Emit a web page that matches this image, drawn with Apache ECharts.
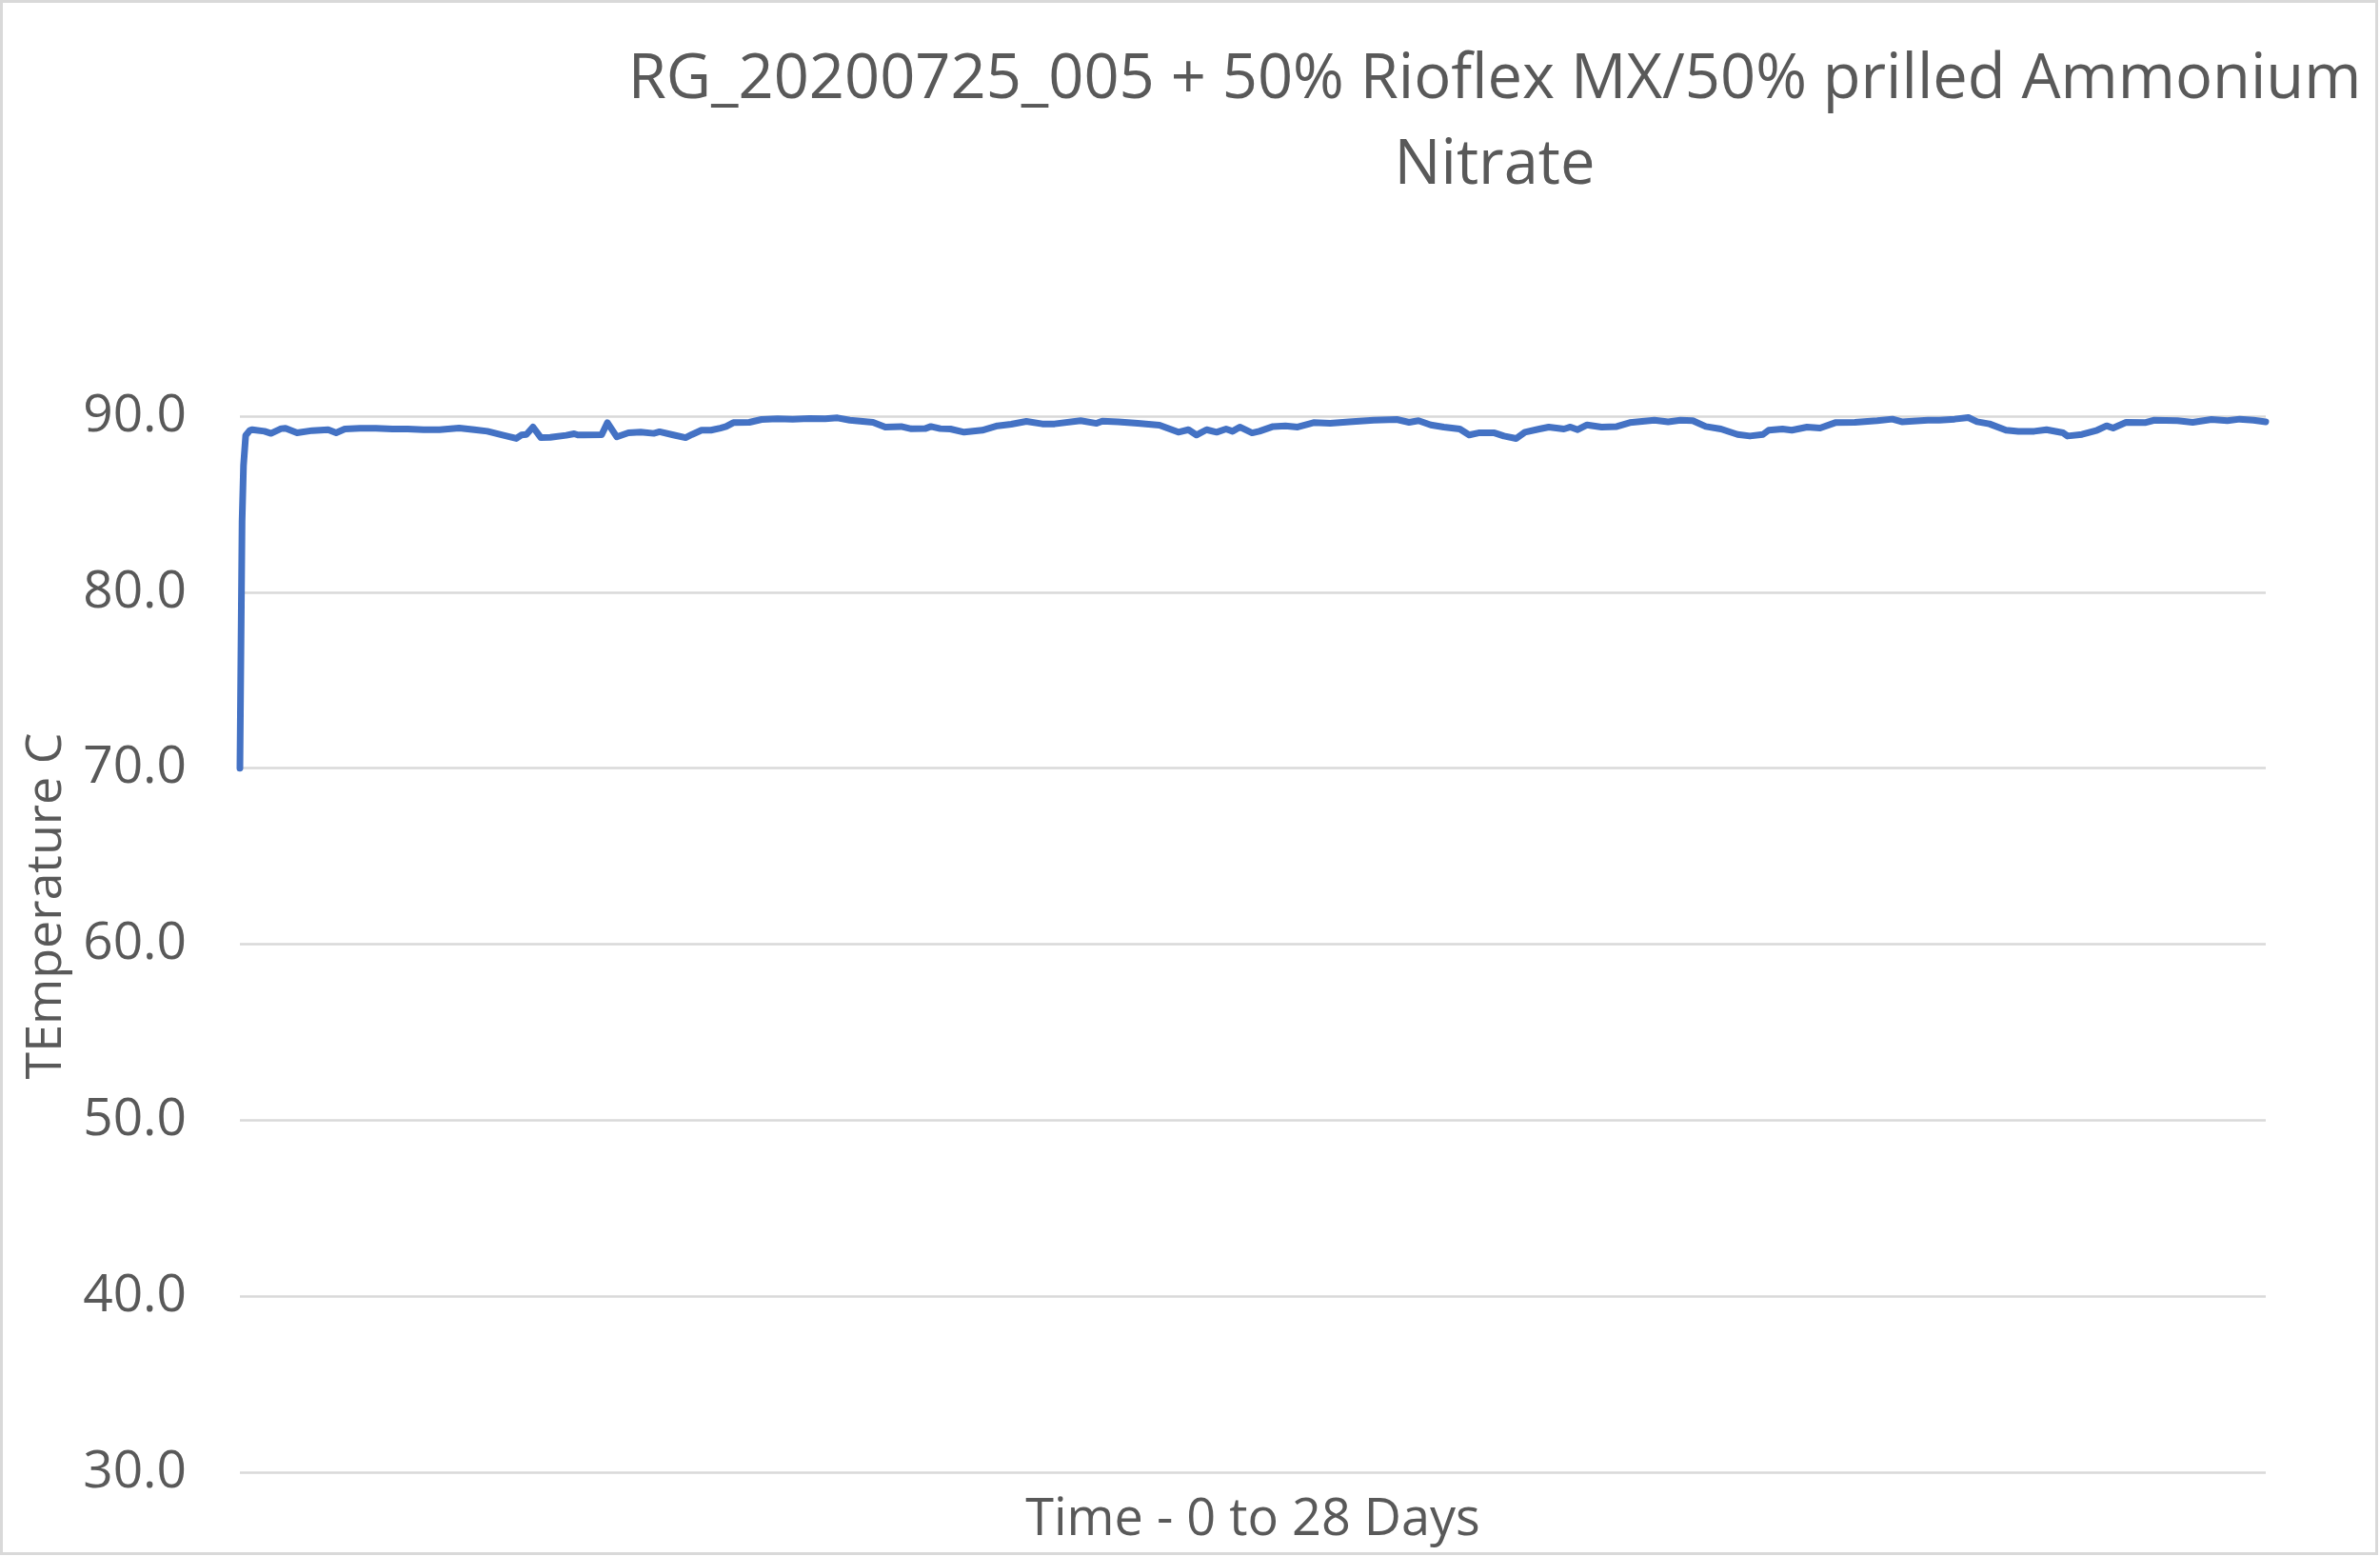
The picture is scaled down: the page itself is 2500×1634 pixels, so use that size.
<!DOCTYPE html>
<html>
<head>
<meta charset="utf-8">
<script src="https://cdn.jsdelivr.net/npm/echarts@6/dist/echarts.min.js"></script>
<style>
  html, body { margin: 0; padding: 0; background: #ffffff; }
  #chart { width: 2500px; height: 1634px; }
</style>
</head>
<body>
<div id="chart"></div>
<script>
// ---- Data ----
const chartTitle = "RG_20200725_005 + 50% Rioflex MX/50% prilled Ammonium\nNitrate";
const xAxisName = "Time - 0 to 28 Days";
const yAxisName = "TEmperature C";
const yTicks = [30, 40, 50, 60, 70, 80, 90];

// time in days (0 to 28)
const timeDays = [
  0, 0.03, 0.05, 0.08, 0.14, 0.17, 0.34, 0.43, 0.57, 0.63, 0.79, 1.00, 1.22, 1.33, 1.45,
  1.66, 1.88, 2.11, 2.32, 2.54, 2.76, 3.03, 3.24, 3.42, 3.63, 3.82, 3.89, 3.96, 4.05,
  4.16, 4.29, 4.51, 4.62, 4.67, 4.75, 5.00, 5.08, 5.21, 5.37, 5.54, 5.72, 5.80, 5.99,
  6.16, 6.25, 6.38, 6.51, 6.64, 6.72, 6.82, 7.04, 7.21, 7.43, 7.64, 7.87, 8.09, 8.26,
  8.43, 8.75, 8.92, 9.14, 9.28, 9.47, 9.55, 9.68, 9.82, 10.01, 10.26, 10.47, 10.66,
  10.87, 11.09, 11.26, 11.62, 11.84, 11.92, 12.14, 12.41, 12.71, 12.97, 13.11, 13.22,
  13.36, 13.50, 13.63, 13.72, 13.82, 13.99, 14.09, 14.28, 14.45, 14.62, 14.84, 15.07,
  15.33, 15.67, 15.99, 16.16, 16.29, 16.46, 16.64, 16.86, 16.99, 17.12, 17.34, 17.47,
  17.64, 17.76, 17.96, 18.09, 18.30, 18.39, 18.49, 18.62, 18.82, 19.03, 19.21, 19.55,
  19.74, 19.91, 20.08, 20.26, 20.47, 20.70, 20.87, 21.05, 21.13, 21.32, 21.45, 21.66,
  21.84, 22.05, 22.32, 22.63, 22.84, 22.97, 23.33, 23.49, 23.70, 23.89, 24.01, 24.18,
  24.41, 24.58, 24.80, 24.97, 25.20, 25.26, 25.46, 25.67, 25.80, 25.89, 26.07, 26.33,
  26.46, 26.78, 26.99, 27.25, 27.47, 27.64, 27.83, 28.00
];

// temperature in degrees C
const temperatureC = [
  70.0, 84.0, 87.2, 88.9, 89.2, 89.23, 89.14, 89.02, 89.29, 89.31, 89.05, 89.18, 89.23, 89.05, 89.27,
  89.31, 89.31, 89.27, 89.27, 89.23, 89.23, 89.32, 89.23, 89.14, 88.93, 88.73, 88.93, 88.96, 89.38,
  88.78, 88.80, 88.91, 89.00, 88.93, 88.93, 88.94, 89.63, 88.82, 89.05, 89.09, 89.02, 89.11, 88.93,
  88.78, 88.96, 89.20, 89.20, 89.32, 89.41, 89.63, 89.65, 89.81, 89.85, 89.83, 89.86, 89.85, 89.90,
  89.77, 89.65, 89.38, 89.41, 89.28, 89.29, 89.41, 89.29, 89.27, 89.09, 89.20, 89.45, 89.54,
  89.70, 89.56, 89.56, 89.74, 89.59, 89.72, 89.68, 89.59, 89.49, 89.09, 89.23, 88.93,
  89.23, 89.09, 89.27, 89.14, 89.38, 89.05, 89.14, 89.41, 89.45, 89.38, 89.63, 89.59,
  89.68, 89.77, 89.81, 89.65, 89.74, 89.50, 89.38, 89.27, 88.93, 89.05, 89.05, 88.87,
  88.73, 89.09, 89.27, 89.38, 89.27, 89.38, 89.23, 89.50, 89.38, 89.41, 89.63, 89.77,
  89.68, 89.77, 89.74, 89.41, 89.27, 88.96, 88.87, 88.96, 89.20, 89.27, 89.20, 89.38,
  89.32, 89.63, 89.65, 89.74, 89.83, 89.68, 89.77, 89.77, 89.83, 89.92, 89.68, 89.56,
  89.20, 89.14, 89.14, 89.23, 89.05, 88.87, 88.96, 89.20, 89.45, 89.32, 89.65, 89.63,
  89.77, 89.74, 89.65, 89.81, 89.74, 89.83, 89.77, 89.68
];

const seriesData = timeDays.map((t, i) => [t, temperatureC[i]]);

const textColor = '#595959';
const gridColor = '#d9d9d9';
const font = '"Open Sans", "Noto Sans", sans-serif';

const chart = echarts.init(document.getElementById('chart'), null, { renderer: 'canvas' });
chart.setOption({
  animation: false,
  backgroundColor: '#ffffff',
  title: {
    text: chartTitle,
    left: 1565,
    top: 34,
    textAlign: 'center',
    textStyle: {
      color: textColor,
      fontFamily: font,
      fontWeight: 'normal',
      fontSize: 65,
      lineHeight: 90
    }
  },
  grid: {
    left: 252,
    right: 120,
    top: 437,
    bottom: 88
  },
  xAxis: {
    type: 'value',
    min: 0,
    max: 28,
    name: xAxisName,
    nameLocation: 'middle',
    nameGap: 24,
    nameTextStyle: { color: textColor, fontFamily: font, fontSize: 54 },
    axisLine: { show: false },
    axisTick: { show: false },
    axisLabel: { show: false },
    splitLine: { show: false }
  },
  yAxis: {
    type: 'value',
    min: yTicks[0],
    max: yTicks[yTicks.length - 1],
    interval: 10,
    name: yAxisName,
    nameLocation: 'middle',
    nameRotate: 90,
    nameGap: 177,
    nameTextStyle: { color: textColor, fontFamily: font, fontSize: 52, padding: [0, 0, 0, 80] },
    axisLine: { show: false },
    axisTick: { show: false },
    axisLabel: {
      color: textColor,
      fontFamily: font,
      fontSize: 55,
      margin: 56,
      formatter: v => v.toFixed(1)
    },
    splitLine: { show: true, lineStyle: { color: gridColor, width: 2.5 } }
  },
  series: [{
    type: 'line',
    data: seriesData,
    showSymbol: false,
    symbol: 'none',
    lineStyle: { color: '#4472C4', width: 7, join: 'round', cap: 'round' },
    itemStyle: { color: '#4472C4' }
  }],
  graphic: [{
    type: 'rect',
    shape: { x: 1.5, y: 1.5, width: 2495, height: 1630 },
    style: { fill: 'none', stroke: gridColor, lineWidth: 3 },
    silent: true,
    z: 100
  }]
});
</script>
</body>
</html>
